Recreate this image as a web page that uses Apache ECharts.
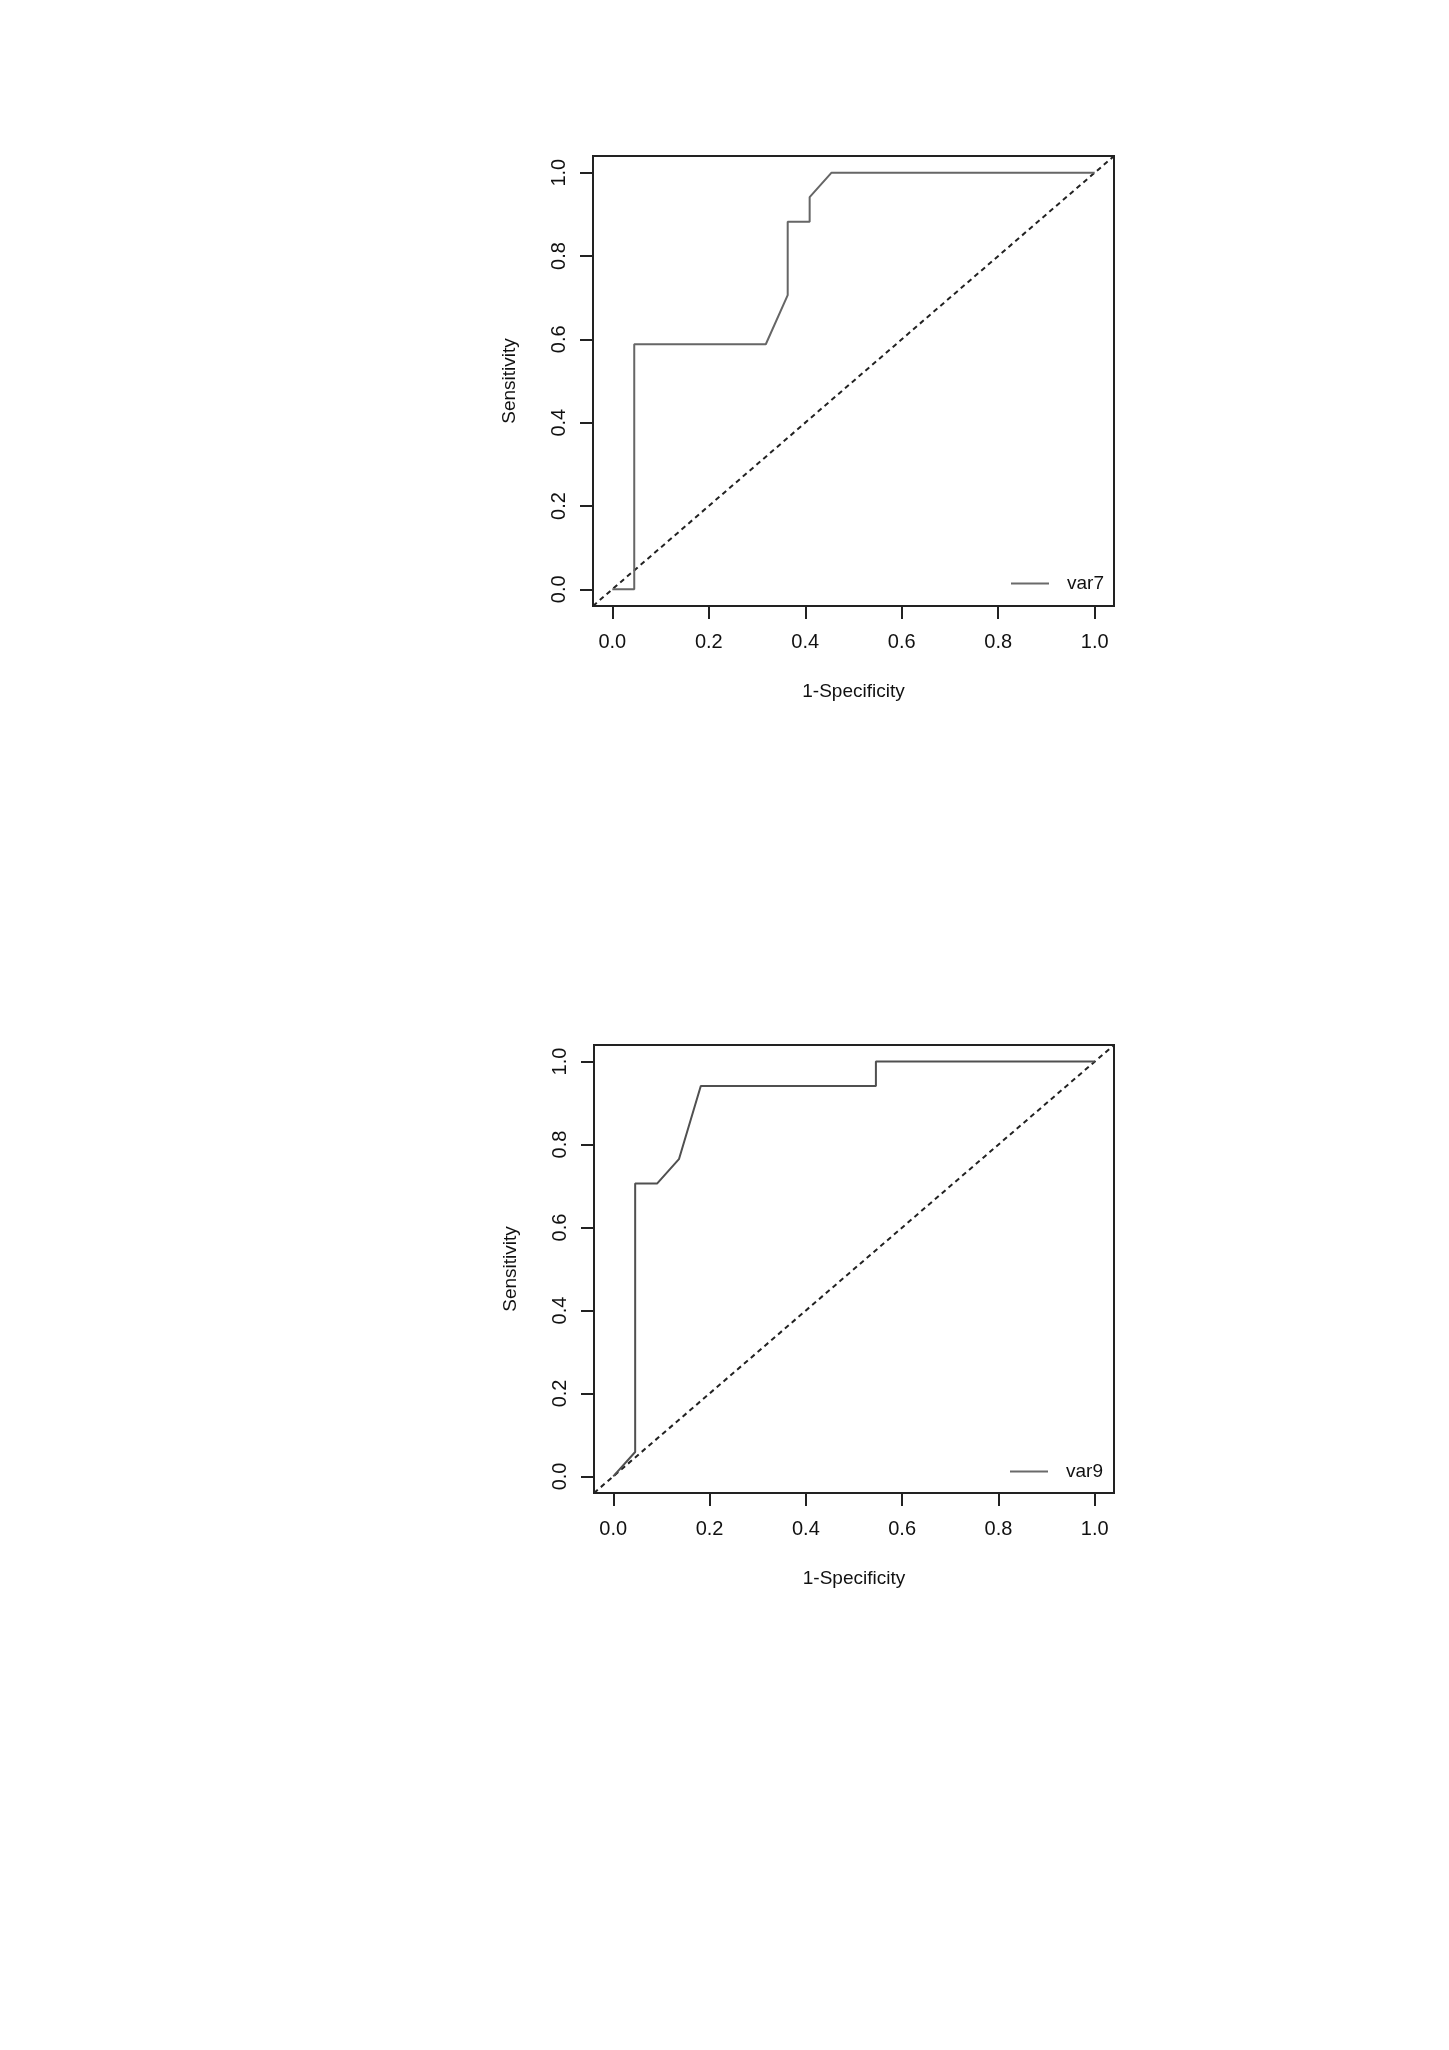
<!DOCTYPE html>
<html>
<head>
<meta charset="utf-8">
<script src="https://cdn.jsdelivr.net/npm/echarts@6/dist/echarts.min.js"></script>
<style>
html,body{margin:0;padding:0;background:#fff;}
#c{width:1449px;height:2050px;}
</style>
</head>
<body>
<div id="c"></div>
<script>
// ROC data
const var7FPR = [0, 0.0455, 0.0455, 0.3182, 0.3636, 0.3636, 0.4091, 0.4091, 0.4545, 1.0];
const var7TPR = [0, 0, 0.5882, 0.5882, 0.7059, 0.8824, 0.8824, 0.9412, 1.0, 1.0];
const var9FPR = [0, 0.0455, 0.0455, 0.0909, 0.1364, 0.1818, 0.5455, 0.5455, 1.0];
const var9TPR = [0, 0.0588, 0.7059, 0.7059, 0.7647, 0.9412, 0.9412, 1.0, 1.0];
const refX = [-0.04, 1.04];
const refY = [-0.04, 1.04];
const tickValues = [0, 0.2, 0.4, 0.6, 0.8, 1.0];
const seriesNames = ['var7', 'var9'];
const xTitle = '1-Specificity';
const yTitle = 'Sensitivity';

const FONT = '"Liberation Sans", Arial, sans-serif';
const pairs = (xs, ys) => xs.map((x, i) => [x, ys[i]]);

const grids = [
  {left: 593, top: 156, width: 521, height: 450},
  {left: 594, top: 1045, width: 520, height: 448}
];

function xAxis(i) {
  return {
    gridIndex: i, type: 'value', min: -0.04, max: 1.04,
    name: xTitle, nameLocation: 'middle', nameGap: 76,
    nameTextStyle: {fontFamily: FONT, fontSize: 19, color: '#111'},
    axisLine: {show: true, onZero: false, lineStyle: {color: '#222', width: 2}},
    splitLine: {show: false},
    axisTick: {show: true, inside: false, customValues: tickValues, length: 13, lineStyle: {color: '#222', width: 2}},
    axisLabel: {customValues: tickValues, margin: 26, fontFamily: FONT, fontSize: 20, color: '#111',
      formatter: v => v.toFixed(1)}
  };
}
function yAxis(i) {
  return {
    gridIndex: i, type: 'value', min: -0.04, max: 1.04,
    name: yTitle, nameLocation: 'middle', nameGap: 74, nameRotate: 90,
    nameTextStyle: {fontFamily: FONT, fontSize: 19, color: '#111'},
    axisLine: {show: true, onZero: false, lineStyle: {color: '#222', width: 2}},
    splitLine: {show: false},
    axisTick: {show: true, inside: false, customValues: tickValues, length: 13, lineStyle: {color: '#222', width: 2}},
    axisLabel: {customValues: tickValues, margin: 24, rotate: 90, fontFamily: FONT, fontSize: 20, color: '#111',
      formatter: v => v.toFixed(1)}
  };
}

const chart = echarts.init(document.getElementById('c'), null, {renderer: 'canvas'});
chart.setOption({
  backgroundColor: '#fff',
  animation: false,
  grid: grids.map(g => Object.assign({show: true, borderColor: '#222', borderWidth: 2, backgroundColor: 'transparent'}, g)),
  xAxis: [xAxis(0), xAxis(1)],
  yAxis: [yAxis(0), yAxis(1)],
  legend: [
    {data: [seriesNames[0]], left: 1006, top: 569, icon: 'rect', itemWidth: 38, itemHeight: 2,
     itemStyle: {color: '#6a6a6a'},
     textStyle: {fontFamily: FONT, fontSize: 19, color: '#111', padding: [0, 0, 0, 13]}},
    {data: [seriesNames[1]], left: 1005, top: 1457, icon: 'rect', itemWidth: 38, itemHeight: 2,
     itemStyle: {color: '#6a6a6a'},
     textStyle: {fontFamily: FONT, fontSize: 19, color: '#111', padding: [0, 0, 0, 13]}}
  ],
  series: [
    {name: seriesNames[0], type: 'line', xAxisIndex: 0, yAxisIndex: 0, data: pairs(var7FPR, var7TPR),
     symbol: 'none', showSymbol: false, lineStyle: {color: '#666', width: 2}, itemStyle: {color: '#666'}, z: 3},
    {name: 'ref7', type: 'line', xAxisIndex: 0, yAxisIndex: 0, data: pairs(refX, refY),
     symbol: 'none', showSymbol: false, lineStyle: {color: '#222', width: 2, type: [5, 4]}, z: 2},
    {name: seriesNames[1], type: 'line', xAxisIndex: 1, yAxisIndex: 1, data: pairs(var9FPR, var9TPR),
     symbol: 'none', showSymbol: false, lineStyle: {color: '#505050', width: 2}, itemStyle: {color: '#505050'}, z: 3},
    {name: 'ref9', type: 'line', xAxisIndex: 1, yAxisIndex: 1, data: pairs(refX, refY),
     symbol: 'none', showSymbol: false, lineStyle: {color: '#222', width: 2, type: [5, 4]}, z: 2}
  ]
});
</script>
</body>
</html>
